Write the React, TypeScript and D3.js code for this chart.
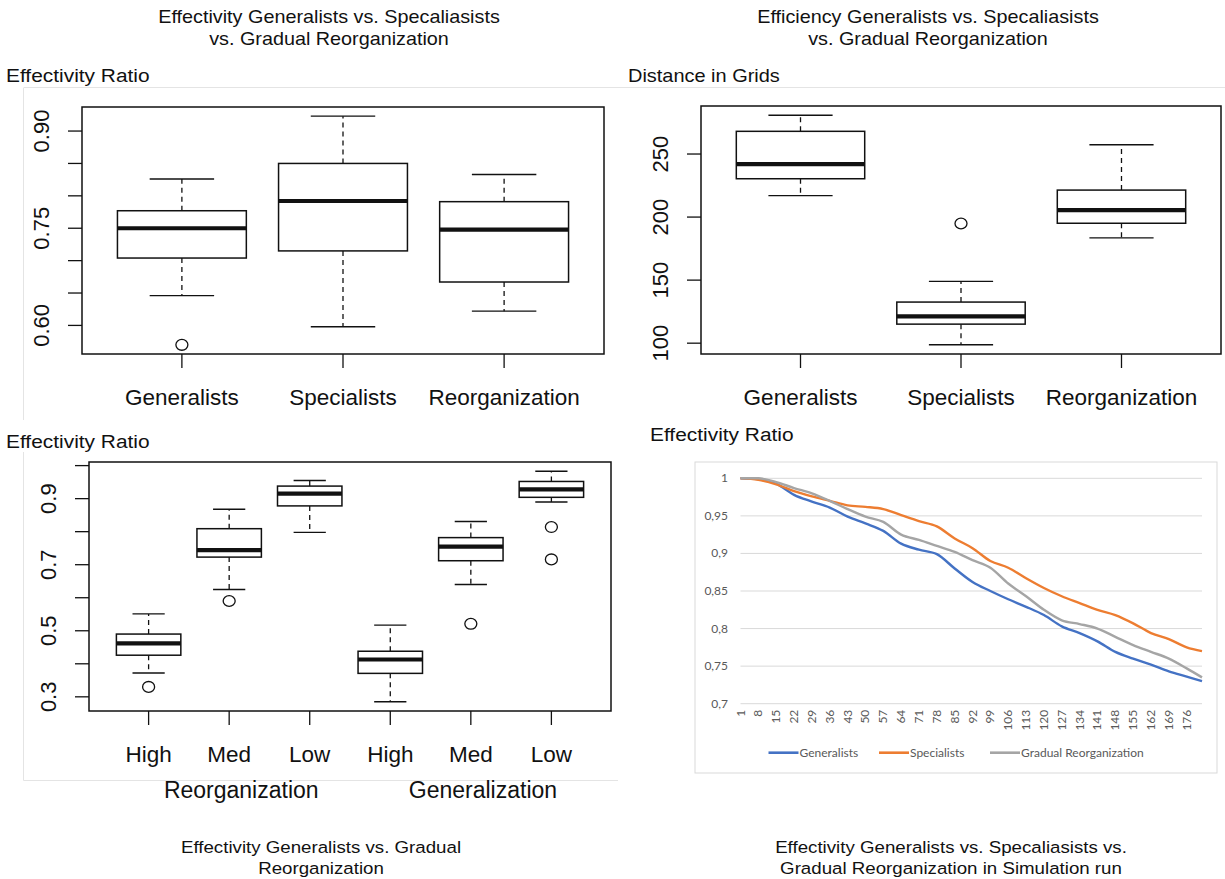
import * as d3 from "d3";

// ---- top left: effectivity ratio boxplot
const effCats = ["Generalists", "Specialists", "Reorganization"];
const effLower = [0.646, 0.598, 0.622];
const effQ1 = [0.704, 0.715, 0.667];
const effMedian = [0.75, 0.792, 0.748];
const effQ3 = [0.777, 0.85, 0.791];
const effUpper = [0.826, 0.923, 0.833];
const effOutliers = [[0.57], [], []];
const effTicks = [0.6, 0.65, 0.7, 0.75, 0.8, 0.85, 0.9];
const effTickLabels = ["0.60", "", "", "0.75", "", "", "0.90"];

// ---- top right: distance boxplot
const distCats = ["Generalists", "Specialists", "Reorganization"];
const distLower = [217, 98.7, 183.5];
const distQ1 = [230.4, 115.1, 195.1];
const distMedian = [242, 121.2, 205.5];
const distQ3 = [268, 132.6, 221.4];
const distUpper = [280.8, 149, 257.4];
const distOutliers = [[], [194.9], []];
const distTicks = [100, 150, 200, 250];
const distTickLabels = ["100", "150", "200", "250"];

// ---- bottom left: levels boxplot
const lvlCats = ["High", "Med", "Low", "High", "Med", "Low"];
const lvlLower = [0.372, 0.625, 0.798, 0.285, 0.64, 0.89];
const lvlQ1 = [0.426, 0.723, 0.878, 0.371, 0.712, 0.904];
const lvlMedian = [0.462, 0.744, 0.915, 0.413, 0.755, 0.928];
const lvlQ3 = [0.49, 0.809, 0.938, 0.438, 0.782, 0.952];
const lvlUpper = [0.551, 0.868, 0.955, 0.517, 0.831, 0.983];
const lvlOutliers = [[0.33], [0.59], [], [], [0.521], [0.814, 0.716]];
const lvlTicks = [0.3, 0.4, 0.5, 0.6, 0.7, 0.8, 0.9, 1.0];
const lvlTickLabels = ["0.3", "", "0.5", "", "0.7", "", "0.9", ""];
const lvlGroups = ["Reorganization", "Generalization"];

// ---- bottom right: simulation run lines
const runs = [1, 8, 15, 22, 29, 36, 43, 50, 57, 64, 71, 78, 85, 92, 99, 106, 113, 120, 127, 134, 141, 148, 155, 162, 169, 176, 182];
const generalists = [1.0, 0.999, 0.993, 0.978, 0.969, 0.961, 0.949, 0.94, 0.93, 0.913, 0.905, 0.899, 0.88, 0.862, 0.85, 0.839, 0.829, 0.818, 0.803, 0.794, 0.783, 0.769, 0.76, 0.752, 0.743, 0.736, 0.73];
const specialists = [1.0, 0.998, 0.992, 0.983, 0.976, 0.97, 0.964, 0.962, 0.959, 0.951, 0.943, 0.936, 0.92, 0.907, 0.89, 0.881, 0.867, 0.854, 0.843, 0.834, 0.825, 0.818, 0.807, 0.794, 0.786, 0.775, 0.77];
const gradual = [1.0, 1.0, 0.995, 0.987, 0.98, 0.97, 0.959, 0.949, 0.942, 0.925, 0.918, 0.91, 0.902, 0.891, 0.881, 0.86, 0.843, 0.825, 0.811, 0.806, 0.8, 0.789, 0.778, 0.769, 0.76, 0.747, 0.735];
const simTicks = [0.7, 0.75, 0.8, 0.85, 0.9, 0.95, 1];
const simTickLabels = ["0,7", "0,75", "0,8", "0,85", "0,9", "0,95", "1"];
const simSeries = ["Generalists", "Specialists", "Gradual Reorganization"];
const simColors = ["#4472C4", "#ED7D31", "#A5A5A5"];

const rFont = "'Liberation Sans', Arial, Helvetica, sans-serif";
const xlFont = "Lato, 'Open Sans', sans-serif";

// text with a slight horizontal stretch (the source picture is widened a bit)
function Txt({ x, y, size, anchor = "start", sx = 1, font = rFont, fill = "#111", children }: any) {
  return (
    <text
      transform={`translate(${x},${y}) scale(${sx},1)`}
      fontSize={size}
      fontFamily={font}
      textAnchor={anchor}
      fill={fill}
      stroke="none"
    >
      {children}
    </text>
  );
}

function BoxPanel({ left, right, top, bottom, cats, lower, q1, med, q3, upper, outliers, ticks, tickLabels, groups, groupAt }: any) {
  const n = cats.length;
  // R style limits: 0.5..n+0.5 and data range, each padded by 4%
  const x = d3.scaleLinear().domain([0.5 - 0.04 * n, n + 0.5 + 0.04 * n]).range([left, right]);
  const all = [...lower, ...upper, ...outliers.flat()];
  const [mn, mx] = d3.extent(all) as [number, number];
  const pad = (mx - mn) * 0.04;
  const y = d3.scaleLinear().domain([mn - pad, mx + pad]).range([bottom, top]);

  return (
    <g stroke="#111" fill="none">
      <rect x={left} y={top} width={right - left} height={bottom - top} strokeWidth={1.5} />
      {ticks.map((t: number, i: number) => (
        <g key={"yt" + i}>
          <line x1={left - 14} x2={left} y1={y(t)} y2={y(t)} strokeWidth={1.3} />
          {tickLabels[i] && (
            <text
              transform={`translate(${left - 33},${y(t)}) rotate(-90)`}
              textAnchor="middle"
              fontSize={22}
              fontFamily={rFont}
              fill="#111"
              stroke="none"
            >
              {tickLabels[i]}
            </text>
          )}
        </g>
      ))}
      {cats.map((c: string, i: number) => {
        const cx = x(i + 1);
        return (
          <g key={"b" + i}>
            <line x1={cx} x2={cx} y1={bottom} y2={bottom + 14} strokeWidth={1.3} />
            <Txt x={cx} y={bottom + 51} size={22.5} anchor="middle">{c}</Txt>
            <line x1={cx} x2={cx} y1={y(q3[i])} y2={y(upper[i])} strokeWidth={1.3} strokeDasharray="5,4" />
            <line x1={cx} x2={cx} y1={y(q1[i])} y2={y(lower[i])} strokeWidth={1.3} strokeDasharray="5,4" />
            <line x1={x(i + 0.8)} x2={x(i + 1.2)} y1={y(upper[i])} y2={y(upper[i])} strokeWidth={1.4} />
            <line x1={x(i + 0.8)} x2={x(i + 1.2)} y1={y(lower[i])} y2={y(lower[i])} strokeWidth={1.4} />
            <rect x={x(i + 0.6)} y={y(q3[i])} width={x(i + 1.4) - x(i + 0.6)} height={y(q1[i]) - y(q3[i])} fill="#fff" strokeWidth={1.5} />
            <line x1={x(i + 0.6)} x2={x(i + 1.4)} y1={y(med[i])} y2={y(med[i])} strokeWidth={4.2} />
            {outliers[i].map((o: number, j: number) => (
              <ellipse key={j} cx={cx} cy={y(o)} rx={6} ry={5.4} strokeWidth={1.3} />
            ))}
          </g>
        );
      })}
      {groups &&
        groups.map((g: string, i: number) => (
          <Txt key={"g" + i} x={x(groupAt[i])} y={bottom + 87} size={23} anchor="middle">{g}</Txt>
        ))}
    </g>
  );
}

function SimChart() {
  const left = 740.5, right = 1202, top = 478.3, bottom = 703.7;
  const x = d3.scaleLinear().domain([1, 182]).range([left, right]);
  const y = d3.scaleLinear().domain([0.7, 1]).range([bottom, top]);
  const line = d3.line<number>().x((_, i) => x(runs[i])).y((d) => y(d)).curve(d3.curveMonotoneX);
  const series = [generalists, specialists, gradual];
  const legendX = [768.5, 879, 990];
  return (
    <g>
      <rect x={695} y={462} width={522} height={311} fill="#fff" stroke="#d9d9d9" strokeWidth={1} />
      {simTicks.map((t, i) => (
        <g key={i}>
          <line x1={left} x2={right} y1={y(t)} y2={y(t)} stroke="#d9d9d9" strokeWidth={1} />
          <Txt x={728} y={y(t) + 4} size={12} anchor="end" font={xlFont} fill="#595959">{simTickLabels[i]}</Txt>
        </g>
      ))}
      {runs.slice(0, -1).map((r, i) => (
        <text
          key={"x" + i}
          transform={`translate(${x(r) + 4},${bottom + 6}) rotate(-90)`}
          textAnchor="end"
          fontSize={12}
          fontFamily={xlFont}
          fill="#595959"
        >
          {r}
        </text>
      ))}
      {series.map((s, i) => (
        <path key={"s" + i} d={line(s) || ""} fill="none" stroke={simColors[i]} strokeWidth={2.4} strokeLinejoin="round" />
      ))}
      {simSeries.map((name, i) => (
        <g key={"l" + i}>
          <line x1={legendX[i]} x2={legendX[i] + 30} y1={752.7} y2={752.7} stroke={simColors[i]} strokeWidth={2.6} />
          <Txt x={legendX[i] + 31} y={756.8} size={12} font={xlFont} fill="#595959">{name}</Txt>
        </g>
      ))}
    </g>
  );
}

export default function App() {
  const sx = 1.1;
  return (
    <div style={{ position: "absolute", left: 0, top: 0 }}>
      <svg width={1225} height={879} style={{ display: "block", background: "#fff" }}>
        {/* faint screenshot borders */}
        <g stroke="#e4e4e4" strokeWidth={1}>
          <line x1={24} x2={1225} y1={87.5} y2={87.5} />
          <line x1={23.5} x2={23.5} y1={87.5} y2={420} />
          <line x1={23.5} x2={23.5} y1={452} y2={780.5} />
          <line x1={23.5} x2={618} y1={780.5} y2={780.5} />
        </g>

        {/* titles */}
        <Txt x={329} y={23} size={18} anchor="middle" sx={sx}>Effectivity Generalists vs. Specaliasists</Txt>
        <Txt x={329} y={45} size={18} anchor="middle" sx={sx}>vs. Gradual Reorganization</Txt>
        <Txt x={928} y={23} size={18} anchor="middle" sx={sx}>Efficiency Generalists vs. Specaliasists</Txt>
        <Txt x={928} y={45} size={18} anchor="middle" sx={sx}>vs. Gradual Reorganization</Txt>

        <Txt x={6} y={82} size={19} sx={sx}>Effectivity Ratio</Txt>
        <Txt x={628} y={82} size={19} sx={1.05}>Distance in Grids</Txt>
        <Txt x={6} y={448} size={19} sx={sx}>Effectivity Ratio</Txt>
        <Txt x={650} y={441} size={19} sx={sx}>Effectivity Ratio</Txt>

        <BoxPanel
          left={82} right={604} top={107} bottom={354}
          cats={effCats} lower={effLower} q1={effQ1} med={effMedian} q3={effQ3} upper={effUpper}
          outliers={effOutliers} ticks={effTicks} tickLabels={effTickLabels}
        />
        <BoxPanel
          left={701} right={1221} top={106} bottom={354}
          cats={distCats} lower={distLower} q1={distQ1} med={distMedian} q3={distQ3} upper={distUpper}
          outliers={distOutliers} ticks={distTicks} tickLabels={distTickLabels}
        />
        <BoxPanel
          left={89} right={611} top={462} bottom={711}
          cats={lvlCats} lower={lvlLower} q1={lvlQ1} med={lvlMedian} q3={lvlQ3} upper={lvlUpper}
          outliers={lvlOutliers} ticks={lvlTicks} tickLabels={lvlTickLabels}
          groups={lvlGroups} groupAt={[2.15, 5.15]}
        />
        <SimChart />

        {/* captions */}
        <Txt x={321} y={853} size={17} anchor="middle" sx={sx}>Effectivity Generalists vs. Gradual</Txt>
        <Txt x={321} y={874} size={17} anchor="middle" sx={sx}>Reorganization</Txt>
        <Txt x={951} y={853} size={17} anchor="middle" sx={sx}>Effectivity Generalists vs. Specaliasists vs.</Txt>
        <Txt x={951} y={874} size={17} anchor="middle" sx={sx}>Gradual Reorganization in Simulation run</Txt>
      </svg>
    </div>
  );
}
